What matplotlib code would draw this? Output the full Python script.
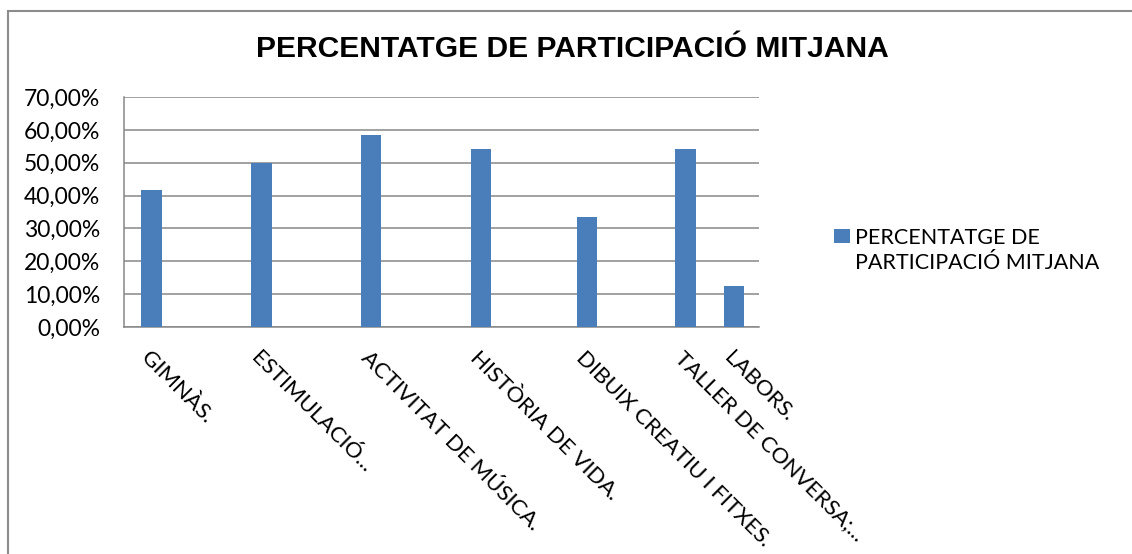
import matplotlib
matplotlib.use("Agg")
import matplotlib.pyplot as plt
from matplotlib.patches import Rectangle
from matplotlib.ticker import FuncFormatter

# Average participation per activity (%)
categories = ["GIMNÀS.", "ESTIMULACIÓ...", "ACTIVITAT DE MÚSICA.", "HISTÒRIA DE VIDA.",
              "DIBUIX CREATIU I FITXES.", "TALLER DE CONVERSA;...", "LABORS."]
participation = [41.67, 50.00, 58.33, 54.17, 33.33, 54.17, 12.50]
series_name = "PERCENTATGE DE\nPARTICIPACIÓ MITJANA"
title = "PERCENTATGE DE PARTICIPACIÓ MITJANA"
y_ticks = [0, 10, 20, 30, 40, 50, 60, 70]

# Horizontal placement of the bars along the category axis (layout)
x_slots = [0.25, 1.25, 2.245, 3.243, 4.207, 5.106, 5.548]
x_span = (0, 5.773)
bar_w = 0.185

W, H = 1132, 554
fig = plt.figure(figsize=(W / 100, H / 100), dpi=100)
fig.patch.set_facecolor("white")

label_font = "Lato"
text_color = "#000000"
bar_color = "#4a7ebb"
grid_color = "#878787"

ax = fig.add_axes([124 / W, 1 - 327 / H, (759 - 124) / W, (327 - 97) / H])
ax.bar(x_slots, participation, width=bar_w, color=bar_color, zorder=3)
ax.set_xlim(*x_span)
ax.set_ylim(0, 70)
ax.set_yticks(y_ticks)
ax.yaxis.set_major_formatter(FuncFormatter(lambda v, _: f"{v:.2f}".replace(".", ",") + "%"))
ax.grid(axis="y", color=grid_color, linewidth=1.1, zorder=0)
for s in ("top", "right"):
    ax.spines[s].set_visible(False)
for s in ("left", "bottom"):
    ax.spines[s].set_color(grid_color)
    ax.spines[s].set_linewidth(1.1)
ax.tick_params(axis="both", length=0)
ax.tick_params(axis="y", pad=17)
for lbl in ax.get_yticklabels():
    lbl.set_fontfamily(label_font)
    lbl.set_fontsize(16.5)
    lbl.set_color(text_color)

ax.set_xticks(x_slots)
ax.set_xticklabels(categories, rotation=-45, rotation_mode="anchor",
                   ha="left", va="top", fontfamily=label_font, fontsize=16,
                   color=text_color)
ax.tick_params(axis="x", pad=15)

fig.text(572 / W, 1 - 57 / H, title, ha="center", va="baseline",
         fontfamily="Liberation Sans", fontweight="bold", fontsize=21.6, color=text_color)

# Legend: square marker beside a two-line series name
fig.patches.append(Rectangle((834 / W, 1 - 243 / H), 16 / W, 14 / H,
                             transform=fig.transFigure, facecolor=bar_color,
                             edgecolor="none"))
fig.text(855 / W, 1 - 228 / H, series_name, ha="left", va="top",
         fontfamily=label_font, fontsize=15.5, color=text_color, linespacing=1.3)

# Outer chart border (left and top edges visible)
fig.patches.append(Rectangle((8 / W, -0.05), 1.1, 1.05 - 11 / H,
                             transform=fig.transFigure, facecolor="none",
                             edgecolor="#8c8c8c", linewidth=1.5))

fig.savefig("out.png", dpi=100, facecolor="white")
